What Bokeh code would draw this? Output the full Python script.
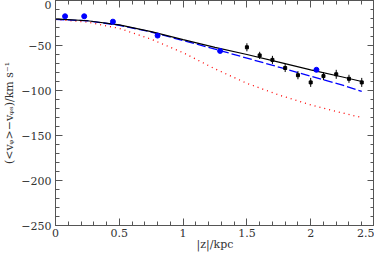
from bokeh.plotting import figure
from bokeh.models import Range1d, LinearAxis, FixedTicker
from bokeh.embed import file_html
from bokeh.resources import INLINE

# model curves
z_model = [0.0, 0.25, 0.5, 0.75, 1.0, 1.25, 1.5, 1.75, 2.0, 2.25, 2.4]
v_black = [-20.5, -22.5, -27, -34.5, -43.5, -52, -60, -68.5, -77, -85, -90]
v_blue = [-21, -22.5, -27.5, -35, -44.5, -54, -64, -74, -84, -94, -101]
v_red = [-21, -24, -31, -43, -58, -76, -92, -105, -116, -125, -130]

# black data with error bars
z_dat = [1.5, 1.6, 1.7, 1.8, 1.9, 2.0, 2.1, 2.2, 2.3, 2.4]
v_dat = [-52, -61, -66, -75, -83, -91, -84, -82, -87, -91]
e_dat = [4.5, 4, 4.5, 4.5, 4.5, 5, 4.5, 5, 4.5, 5]

# blue points
z_blue = [0.075, 0.225, 0.45, 0.8, 1.29, 2.045]
v_bpts = [-17.5, -17.5, -23.5, -39, -56, -77]

x_major = [0, 0.5, 1, 1.5, 2, 2.5]
x_labels = ["0", "0.5", "1", "1.5", "2", "2.5"]
y_major = [0, -50, -100, -150, -200, -250]
y_labels = ["0", "\u221250", "\u2212100", "\u2212150", "\u2212200", "\u2212250"]

FONT = "DejaVu Serif"

p = figure(width=374, height=253, output_backend="svg", toolbar_location=None,
           x_range=Range1d(0, 2.5), y_range=Range1d(-250, 0),
           x_axis_location=None, y_axis_location=None,
           min_border_left=0, min_border_right=0, min_border_top=0, min_border_bottom=0)
p.grid.visible = False
p.outline_line_color = "#555555"
p.outline_line_width = 1
p.background_fill_color = "white"
p.border_fill_color = "white"

xt = FixedTicker(ticks=x_major, minor_ticks=[i / 10 for i in range(0, 26)])
yt = FixedTicker(ticks=y_major, minor_ticks=[-10 * i for i in range(0, 26)])

def style(ax):
    ax.major_tick_in = 7
    ax.major_tick_out = 0
    ax.minor_tick_in = 4
    ax.minor_tick_out = 0
    ax.axis_line_color = "#555555"
    ax.major_tick_line_color = "#555555"
    ax.minor_tick_line_color = "#555555"
    ax.major_label_text_font = FONT
    ax.major_label_text_color = "#333333"
    ax.major_label_text_font_size = "11px"
    ax.axis_label_text_font = FONT
    ax.axis_label_text_font_style = "normal"
    ax.axis_label_text_color = "#333333"
    ax.axis_label_text_font_size = "11px"

xb = LinearAxis(ticker=xt, axis_label="|z|/kpc",
                major_label_overrides=dict(zip(x_major, x_labels)))
style(xb)
xb.major_label_standoff = 3
xb.axis_label_standoff = -2
p.add_layout(xb, "below")

yl = LinearAxis(ticker=yt, axis_label="(<v\u1d69>\u2212v\u1d69\u209b)/km s\u207b\u00b9",
                major_label_overrides=dict(zip(y_major, y_labels)))
style(yl)
yl.major_label_standoff = 4
yl.axis_label_standoff = 2
p.add_layout(yl, "left")

xa = LinearAxis(ticker=xt, major_label_overrides={t: "" for t in x_major})
style(xa)
xa.major_label_standoff = 0
xa.axis_label_standoff = 0
p.add_layout(xa, "above")
yr = LinearAxis(ticker=yt, major_label_overrides={t: "" for t in y_major})
style(yr)
yr.major_label_standoff = 0
yr.axis_label_standoff = 0
p.add_layout(yr, "right")

p.line(z_model, v_red, line_color="red", line_width=1.3, line_dash="1 4")
p.line(z_model, v_blue, line_color="blue", line_width=1.3, line_dash="9 3")
p.line(z_model, v_black, line_color="black", line_width=1.2)

y0 = [v - e for v, e in zip(v_dat, e_dat)]
y1 = [v + e for v, e in zip(v_dat, e_dat)]
p.segment(x0=z_dat, y0=y0, x1=z_dat, y1=y1, line_color="black", line_width=1)
p.scatter(z_dat, v_dat, marker="square", size=3, color="black")
p.scatter(z_blue, v_bpts, marker="circle", size=5, color="blue")

open("out.html", "w").write(file_html(p, INLINE))
